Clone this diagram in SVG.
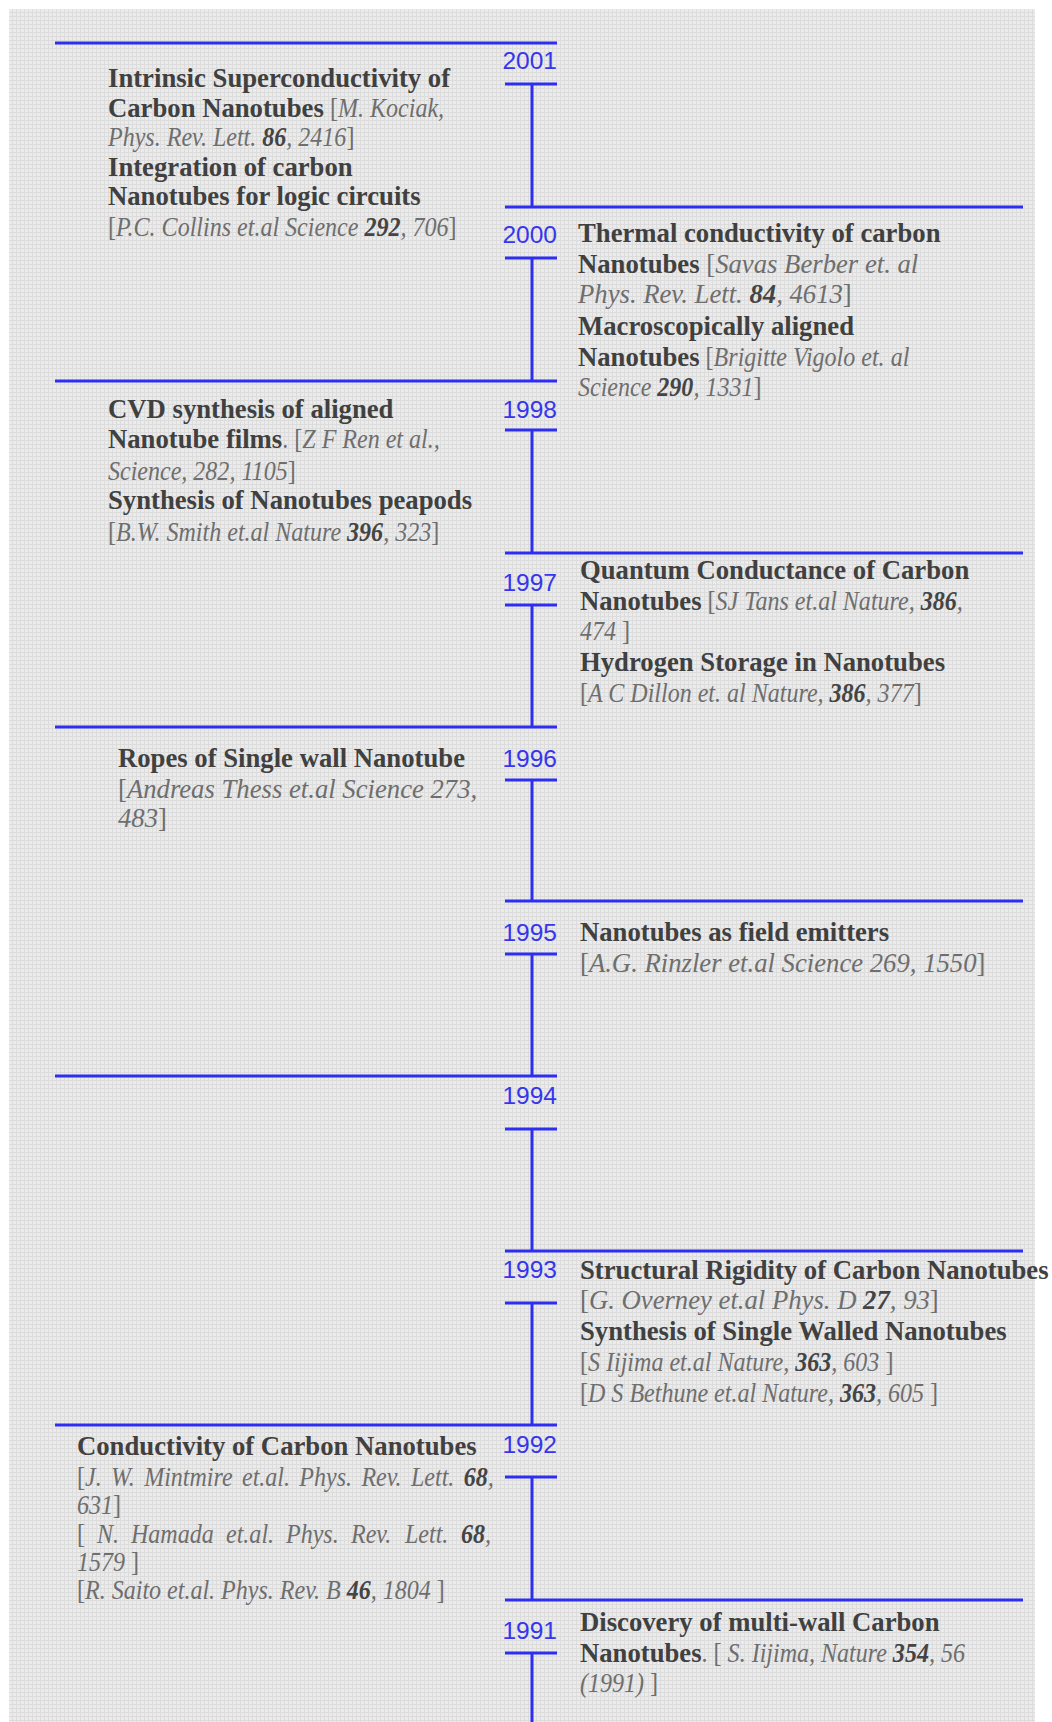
<svg xmlns="http://www.w3.org/2000/svg" width="1052" height="1722" viewBox="0 0 1052 1722">
<defs>
<pattern id="grid" width="4" height="4" patternUnits="userSpaceOnUse">
<rect width="4" height="4" fill="#ebebeb"/>
<rect width="1" height="4" fill="#dcdcdc"/>
<rect width="4" height="1" fill="#dcdcdc"/>
</pattern>
<style>
.ln{stroke:#2e2ef2;stroke-width:3;fill:none}
.yr{font-family:"Liberation Sans",Arial,sans-serif;font-size:24.5px;fill:#3535ee;text-anchor:end}
.t{font-family:"Liberation Serif","Times New Roman",serif;font-size:26.7px}
.b{font-weight:bold;fill:#404040}
.c{fill:#6e6e6e}
.i{font-style:italic;fill:#6e6e6e}
.n{font-style:italic;font-weight:bold;fill:#444444}
</style>
</defs>
<rect width="1052" height="1722" fill="#ffffff"/>
<rect x="9" y="9" width="1026" height="1713" fill="url(#grid)"/>
<g id="connectors">
<line class="ln" x1="55" y1="43" x2="557" y2="43"/>
<line class="ln" x1="505" y1="84" x2="557" y2="84"/>
<line class="ln" x1="532" y1="84" x2="532" y2="207"/>
<line class="ln" x1="505" y1="207" x2="1023" y2="207"/>
<line class="ln" x1="505" y1="258" x2="557" y2="258"/>
<line class="ln" x1="532" y1="258" x2="532" y2="381"/>
<line class="ln" x1="55" y1="381" x2="557" y2="381"/>
<line class="ln" x1="505" y1="430" x2="557" y2="430"/>
<line class="ln" x1="532" y1="430" x2="532" y2="553"/>
<line class="ln" x1="505" y1="553" x2="1023" y2="553"/>
<line class="ln" x1="505" y1="605" x2="557" y2="605"/>
<line class="ln" x1="532" y1="605" x2="532" y2="727"/>
<line class="ln" x1="55" y1="727" x2="557" y2="727"/>
<line class="ln" x1="505" y1="780" x2="557" y2="780"/>
<line class="ln" x1="532" y1="780" x2="532" y2="901"/>
<line class="ln" x1="505" y1="901" x2="1023" y2="901"/>
<line class="ln" x1="505" y1="954" x2="557" y2="954"/>
<line class="ln" x1="532" y1="954" x2="532" y2="1076"/>
<line class="ln" x1="55" y1="1076" x2="557" y2="1076"/>
<line class="ln" x1="505" y1="1129" x2="557" y2="1129"/>
<line class="ln" x1="532" y1="1129" x2="532" y2="1251"/>
<line class="ln" x1="505" y1="1251" x2="1023" y2="1251"/>
<line class="ln" x1="505" y1="1303" x2="557" y2="1303"/>
<line class="ln" x1="532" y1="1303" x2="532" y2="1425"/>
<line class="ln" x1="55" y1="1425" x2="557" y2="1425"/>
<line class="ln" x1="505" y1="1477" x2="557" y2="1477"/>
<line class="ln" x1="532" y1="1477" x2="532" y2="1600"/>
<line class="ln" x1="505" y1="1600" x2="1023" y2="1600"/>
<line class="ln" x1="505" y1="1653" x2="557" y2="1653"/>
<line class="ln" x1="532" y1="1653" x2="532" y2="1722"/>
</g>
<g id="y2001">
<text class="yr" x="557" y="69">2001</text>
<text class="t" x="108" y="87"><tspan class="b">Intrinsic Superconductivity of</tspan></text>
<text class="t" x="108" y="117"><tspan class="b">Carbon Nanotubes</tspan></text>
<text class="t" transform="matrix(0.9 0 0 1 330 117)"><tspan class="c">[</tspan><tspan class="i">M. Kociak,</tspan></text>
<text class="t" transform="matrix(0.9 0 0 1 108 146)"><tspan class="i">Phys. Rev. Lett. </tspan><tspan class="n">86</tspan><tspan class="i">, 2416</tspan><tspan class="c">]</tspan></text>
<text class="t" x="108" y="176"><tspan class="b">Integration of carbon</tspan></text>
<text class="t" x="108" y="205"><tspan class="b">Nanotubes for logic circuits</tspan></text>
<text class="t" transform="matrix(0.9 0 0 1 108 236)"><tspan class="c">[</tspan><tspan class="i">P.C. Collins et.al Science </tspan><tspan class="n">292</tspan><tspan class="i">, 706</tspan><tspan class="c">]</tspan></text>
</g>
<g id="y2000">
<text class="yr" x="557" y="243">2000</text>
<text class="t" x="578" y="242"><tspan class="b">Thermal conductivity of carbon</tspan></text>
<text class="t" x="578" y="273"><tspan class="b">Nanotubes</tspan><tspan class="c"> [</tspan><tspan class="i">Savas Berber et. al</tspan></text>
<text class="t" x="578" y="303"><tspan class="i">Phys. Rev. Lett. </tspan><tspan class="n">84</tspan><tspan class="i">, 4613</tspan><tspan class="c">]</tspan></text>
<text class="t" x="578" y="335"><tspan class="b">Macroscopically aligned</tspan></text>
<text class="t" x="578" y="366"><tspan class="b">Nanotubes</tspan></text>
<text class="t" transform="matrix(0.9 0 0 1 705.6 366)"><tspan class="c">[</tspan><tspan class="i">Brigitte Vigolo et. al</tspan></text>
<text class="t" transform="matrix(0.9 0 0 1 578 396)"><tspan class="i">Science </tspan><tspan class="n">290</tspan><tspan class="i">, 1331</tspan><tspan class="c">]</tspan></text>
</g>
<g id="y1998">
<text class="yr" x="557" y="418">1998</text>
<text class="t" x="108" y="418"><tspan class="b">CVD synthesis of aligned</tspan></text>
<text class="t" x="108" y="448"><tspan class="b">Nanotube films</tspan></text>
<text class="t" transform="matrix(0.9 0 0 1 282.3 448)"><tspan class="c">. [</tspan><tspan class="i">Z F Ren et al.,</tspan></text>
<text class="t" transform="matrix(0.9 0 0 1 108 480)"><tspan class="i">Science, 282, 1105</tspan><tspan class="c">]</tspan></text>
<text class="t" x="108" y="509"><tspan class="b">Synthesis of Nanotubes peapods</tspan></text>
<text class="t" transform="matrix(0.9 0 0 1 108 541)"><tspan class="c">[</tspan><tspan class="i">B.W. Smith et.al Nature </tspan><tspan class="n">396</tspan><tspan class="i">, 323</tspan><tspan class="c">]</tspan></text>
</g>
<g id="y1997">
<text class="yr" x="557" y="591">1997</text>
<text class="t" x="580" y="579"><tspan class="b">Quantum Conductance of Carbon</tspan></text>
<text class="t" x="580" y="610"><tspan class="b">Nanotubes</tspan></text>
<text class="t" transform="matrix(0.9 0 0 1 707.6 610)"><tspan class="c">[</tspan><tspan class="i">SJ Tans et.al Nature, </tspan><tspan class="n">386</tspan><tspan class="i">,</tspan></text>
<text class="t" transform="matrix(0.9 0 0 1 580 640)"><tspan class="i">474 </tspan><tspan class="c">]</tspan></text>
<text class="t" x="580" y="671"><tspan class="b">Hydrogen Storage in Nanotubes</tspan></text>
<text class="t" transform="matrix(0.9 0 0 1 580 702)"><tspan class="c">[</tspan><tspan class="i">A C Dillon et. al Nature, </tspan><tspan class="n">386</tspan><tspan class="i">, 377</tspan><tspan class="c">]</tspan></text>
</g>
<g id="y1996">
<text class="yr" x="557" y="767">1996</text>
<text class="t" x="118" y="767"><tspan class="b">Ropes of Single wall Nanotube</tspan></text>
<text class="t" x="118" y="798"><tspan class="c">[</tspan><tspan class="i">Andreas Thess et.al Science 273,</tspan></text>
<text class="t" x="118" y="827"><tspan class="i">483</tspan><tspan class="c">]</tspan></text>
</g>
<g id="y1995">
<text class="yr" x="557" y="941">1995</text>
<text class="t" x="580" y="941"><tspan class="b">Nanotubes as field emitters</tspan></text>
<text class="t" x="580" y="972"><tspan class="c">[</tspan><tspan class="i">A.G. Rinzler et.al Science 269, 1550</tspan><tspan class="c">]</tspan></text>
</g>
<g id="y1994">
<text class="yr" x="557" y="1104">1994</text>
</g>
<g id="y1993">
<text class="yr" x="557" y="1278">1993</text>
<text class="t" x="580" y="1279"><tspan class="b">Structural Rigidity of Carbon Nanotubes</tspan></text>
<text class="t" x="580" y="1309"><tspan class="c">[</tspan><tspan class="i">G. Overney et.al Phys. D </tspan><tspan class="n">27</tspan><tspan class="i">, 93</tspan><tspan class="c">]</tspan></text>
<text class="t" x="580" y="1340"><tspan class="b">Synthesis of Single Walled Nanotubes</tspan></text>
<text class="t" transform="matrix(0.9 0 0 1 580 1371)"><tspan class="c">[</tspan><tspan class="i">S Iijima et.al Nature, </tspan><tspan class="n">363</tspan><tspan class="i">, 603 </tspan><tspan class="c">]</tspan></text>
<text class="t" transform="matrix(0.9 0 0 1 580 1402)"><tspan class="c">[</tspan><tspan class="i">D S Bethune et.al Nature, </tspan><tspan class="n">363</tspan><tspan class="i">, 605 </tspan><tspan class="c">]</tspan></text>
</g>
<g id="y1992">
<text class="yr" x="557" y="1453">1992</text>
<text class="t" x="77" y="1455"><tspan class="b">Conductivity of Carbon Nanotubes</tspan></text>
<text class="t" transform="matrix(0.9 0 0 1 77 1486)" word-spacing="3.7"><tspan class="c">[</tspan><tspan class="i">J. W. Mintmire et.al. Phys. Rev. Lett. </tspan><tspan class="n">68</tspan><tspan class="i">,</tspan></text>
<text class="t" transform="matrix(0.9 0 0 1 77 1514)"><tspan class="i">631</tspan><tspan class="c">]</tspan></text>
<text class="t" transform="matrix(0.9 0 0 1 77 1542.5)"><tspan class="c" x="0">[</tspan><tspan class="i" x="22.2">N.</tspan><tspan class="i" x="60">Hamada</tspan><tspan class="i" x="165.6">et.al.</tspan><tspan class="i" x="232.2">Phys.</tspan><tspan class="i" x="304.4">Rev.</tspan><tspan class="i" x="364.4">Lett.</tspan><tspan class="n" x="426.7">68</tspan><tspan class="i">,</tspan></text>
<text class="t" transform="matrix(0.9 0 0 1 77 1570.5)"><tspan class="i">1579 </tspan><tspan class="c">]</tspan></text>
<text class="t" transform="matrix(0.9 0 0 1 77 1599)"><tspan class="c">[</tspan><tspan class="i">R. Saito et.al. Phys. Rev. B </tspan><tspan class="n">46</tspan><tspan class="i">, 1804 </tspan><tspan class="c">]</tspan></text>
</g>
<g id="y1991">
<text class="yr" x="557" y="1639">1991</text>
<text class="t" x="580" y="1631"><tspan class="b">Discovery of multi-wall Carbon</tspan></text>
<text class="t" x="580" y="1662"><tspan class="b">Nanotubes</tspan></text>
<text class="t" transform="matrix(0.9 0 0 1 701.6 1662)"><tspan class="c">. [ </tspan><tspan class="i">S. Iijima, Nature </tspan><tspan class="n">354</tspan><tspan class="i">, 56</tspan></text>
<text class="t" transform="matrix(0.9 0 0 1 580 1692)"><tspan class="i">(1991) </tspan><tspan class="c">]</tspan></text>
</g>
</svg>
